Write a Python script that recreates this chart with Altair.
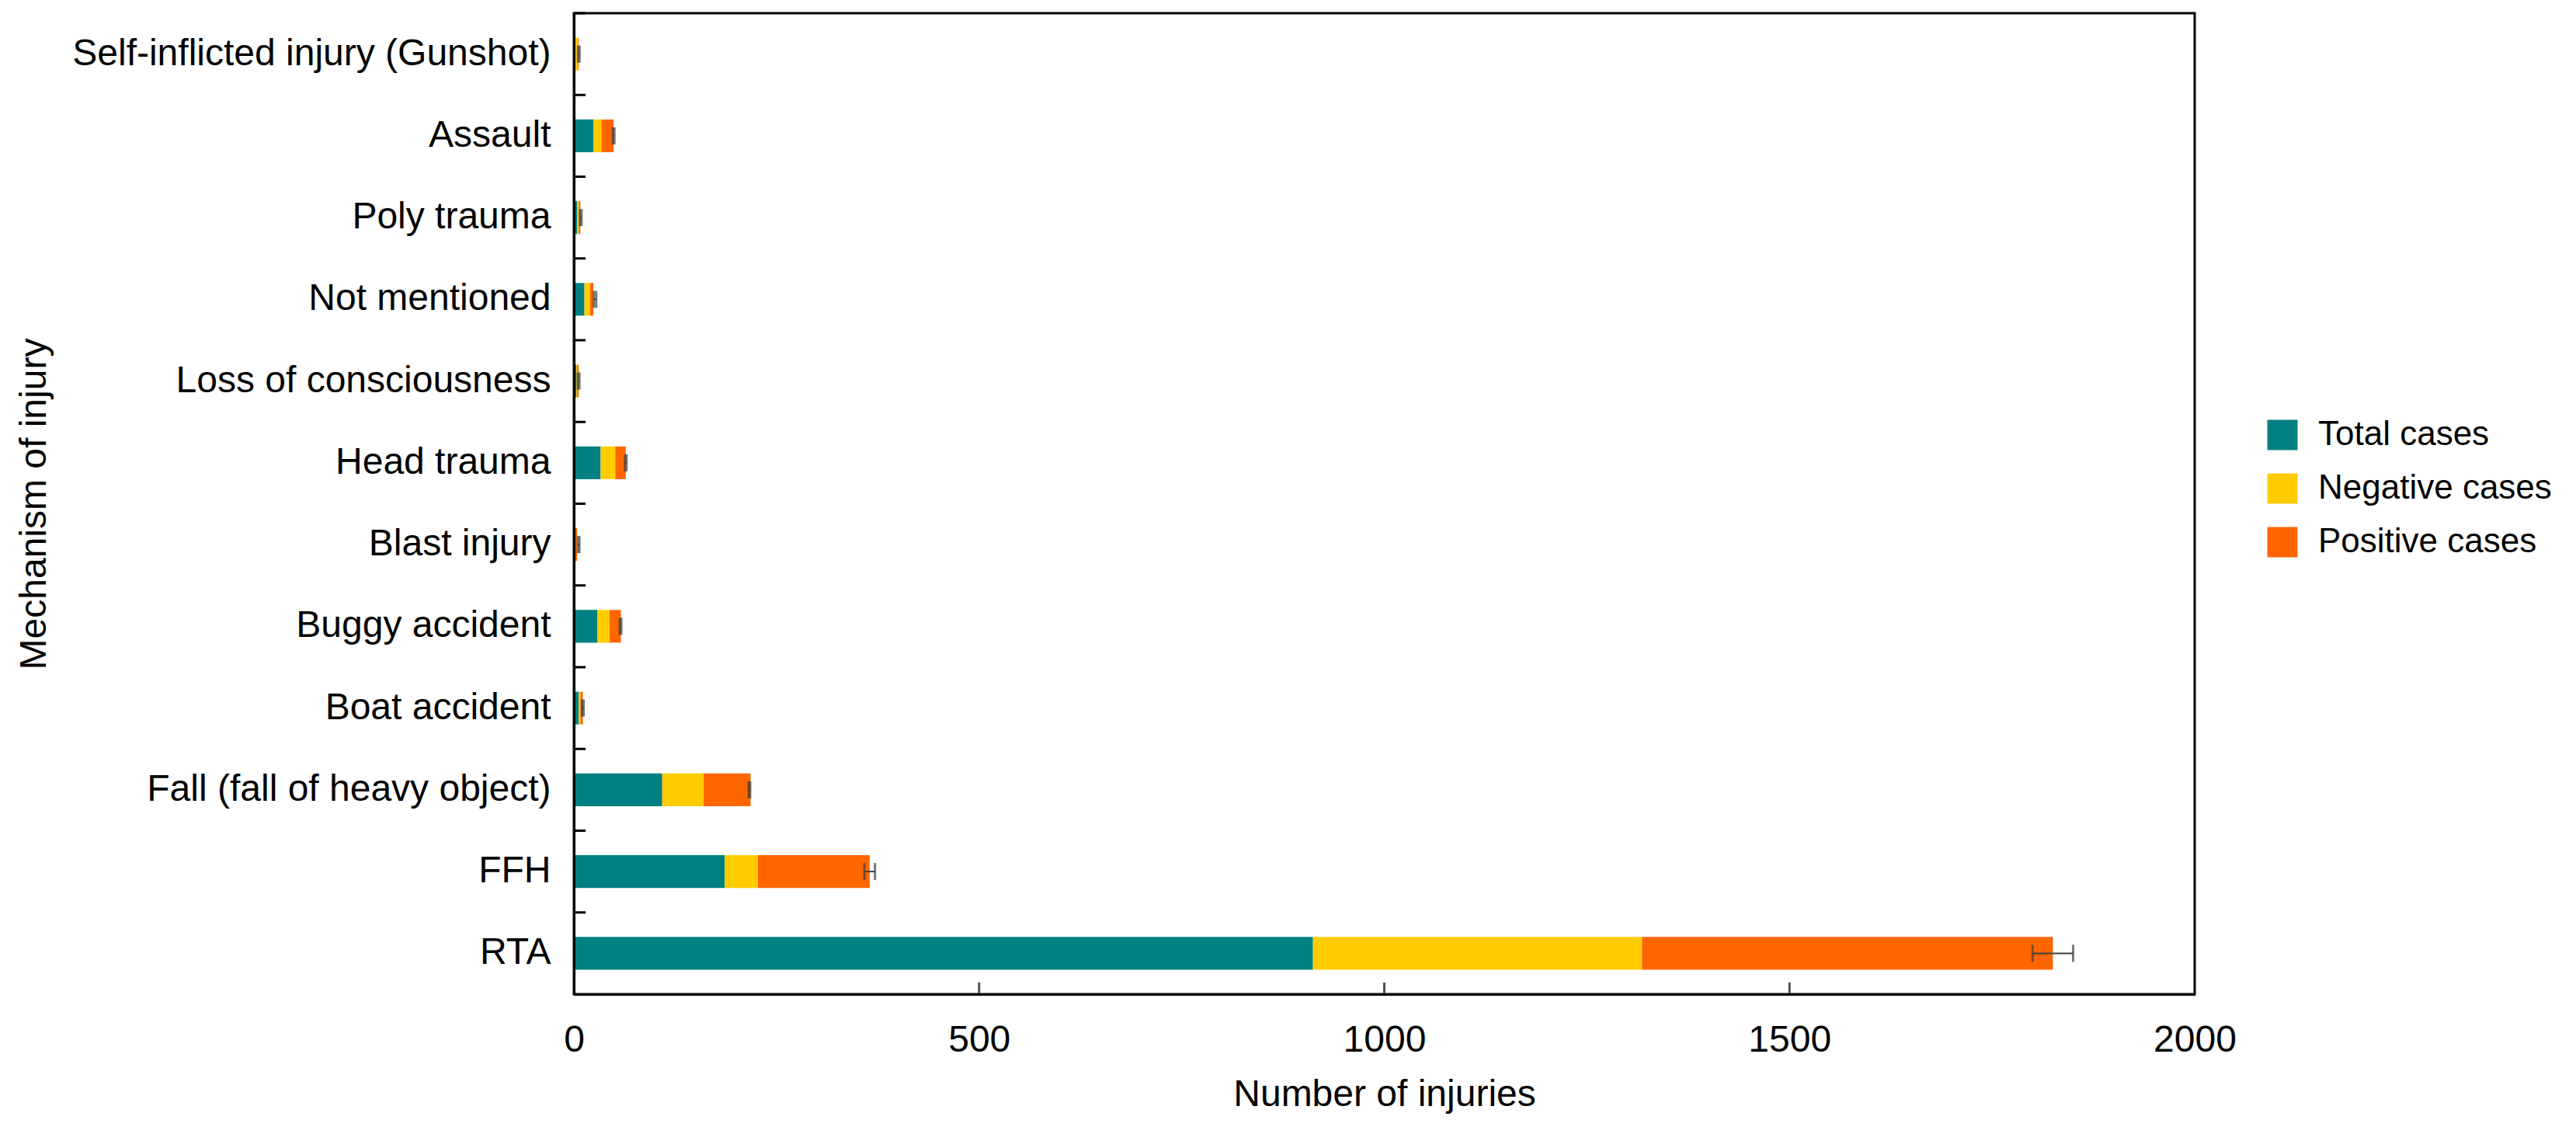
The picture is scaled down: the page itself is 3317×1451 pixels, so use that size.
import altair as alt
import pandas as pd

# ---- data ----
categories = [
    "Self-inflicted injury (Gunshot)",
    "Assault",
    "Poly trauma",
    "Not mentioned",
    "Loss of consciousness",
    "Head trauma",
    "Blast injury",
    "Buggy accident",
    "Boat accident",
    "Fall (fall of heavy object)",
    "FFH",
    "RTA",
]
total_cases = [2, 24, 4, 13, 3, 33, 1, 29, 6, 109, 186, 912]
negative_cases = [3, 10, 2, 7, 1, 18, 0, 15, 2, 51, 41, 406]
positive_cases = [1, 15, 2, 4, 2, 13, 3, 14, 3, 58, 138, 507]
err_center = [6, 49, 8.5, 26, 5.8, 64, 5.8, 57.5, 11, 216.5, 365, 1825]
err_half = [1, 1, 1, 1.5, 1, 1, 1, 1, 1, 1, 6.5, 25]

series_names = ["Total cases", "Negative cases", "Positive cases"]
series_colors = ["#008080", "#FFCC00", "#FF6600"]
x_tick_values = [0, 500, 1000, 1500, 2000]
inner_x_ticks = [500, 1000, 1500]

FONT = "Liberation Sans"
W, H = 2087, 1263

rows = []
for i, c in enumerate(categories):
    for k, vals in enumerate([total_cases, negative_cases, positive_cases]):
        rows.append({"cat": c, "series": series_names[k], "value": vals[i], "k": k})
bars_df = pd.DataFrame(rows)

err_df = pd.DataFrame({
    "cat": categories,
    "lo": [m - h for m, h in zip(err_center, err_half)],
    "hi": [m + h for m, h in zip(err_center, err_half)],
})
cap_rows = []
for i, c in enumerate(categories):
    cap_rows.append({"cat": c, "v": err_center[i] - err_half[i]})
    cap_rows.append({"cat": c, "v": err_center[i] + err_half[i]})
cap_df = pd.DataFrame(cap_rows)
cat_df = pd.DataFrame({"cat": categories})
xt_df = pd.DataFrame({"v": inner_x_ticks})

ysort = categories

x_axis = alt.Axis(
    values=x_tick_values,
    format="d",
    title="Number of injuries",
    titleFontSize=48,
    titleFontWeight="normal",
    titleColor="black",
    titleBaseline="alphabetic",
    titleY=143,
    labelFontSize=48,
    labelColor="black",
    labelBaseline="alphabetic",
    labelPadding=73,
    labelFlush=False,
    labelOverlap=False,
    ticks=False,
    tickSize=0,
    grid=False,
    domainColor="black",
    domainWidth=3,
    zindex=1,
)
y_axis = alt.Axis(
    title="Mechanism of injury",
    titleFontSize=48,
    titleFontWeight="normal",
    titleColor="black",
    titleAngle=270,
    titleBaseline="alphabetic",
    titleAlign="center",
    titleX=-681,
    titleY=H / 2,
    labelFontSize=48,
    labelColor="black",
    labelPadding=30,
    labelLimit=1200,
    ticks=False,
    tickSize=0,
    grid=False,
    domainColor="black",
    domainWidth=3,
    zindex=1,
)
x_scale = alt.Scale(domain=[0, 2000], nice=False, zero=True)
y_scale = alt.Scale(paddingInner=0, paddingOuter=0)

bars = alt.Chart(bars_df).mark_bar(height={"band": 0.4}).encode(
    x=alt.X("value:Q", stack="zero", scale=x_scale, axis=x_axis),
    y=alt.Y("cat:N", sort=ysort, scale=y_scale, axis=y_axis),
    color=alt.Color(
        "series:N",
        sort=series_names,
        scale=alt.Scale(domain=series_names, range=series_colors),
        legend=alt.Legend(
            title=None,
            orient="none",
            legendX=2178,
            legendY=521,
            symbolType="square",
            symbolSize=1521,
            symbolStrokeWidth=0,
            symbolOpacity=1,
            labelFontSize=44,
            labelColor="black",
            labelOffset=24,
            labelLimit=1000,
            rowPadding=25,
            padding=0,
        ),
    ),
    order=alt.Order("k:Q", sort="ascending"),
)

whisk = alt.Chart(err_df).mark_rule(color="#404040", strokeWidth=2).encode(
    x=alt.X("lo:Q", scale=x_scale, axis=x_axis),
    x2="hi:Q",
    y=alt.Y("cat:N", sort=ysort, scale=y_scale, axis=y_axis),
)

caps = alt.Chart(cap_df).mark_tick(color="#404040", size=22, thickness=3).encode(
    x=alt.X("v:Q", scale=x_scale, axis=x_axis),
    y=alt.Y("cat:N", sort=ysort, scale=y_scale, axis=y_axis),
)

yticks = alt.Chart(cat_df).mark_rule(color="black", strokeWidth=3).encode(
    y=alt.Y("cat:N", sort=ysort, scale=y_scale, axis=y_axis, bandPosition=0),
    x=alt.value(0),
    x2=alt.value(15),
)

xticks = alt.Chart(xt_df).mark_rule(color="#505050", strokeWidth=3).encode(
    x=alt.X("v:Q", scale=x_scale, axis=x_axis),
    y=alt.value(H),
    y2=alt.value(H - 15),
)

chart = (
    alt.layer(bars, whisk, caps, yticks, xticks)
    .properties(
        width=W,
        height=H,
        autosize=alt.AutoSizeParams(type="none"),
        padding={"left": 731, "top": 9, "right": 483, "bottom": 160},
    )
    .configure(font=FONT)
    .configure_view(stroke="black", strokeWidth=3)
)

chart.save("out.html", embed_options={"renderer": "svg", "actions": False})
